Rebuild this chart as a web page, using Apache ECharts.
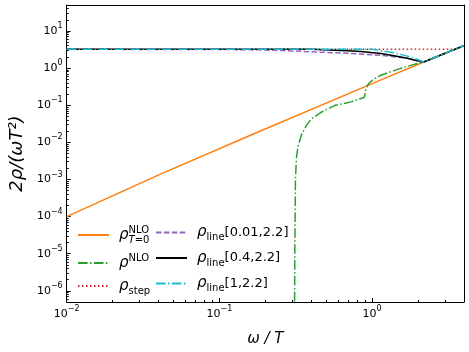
<!DOCTYPE html>
<html>
<head>
<meta charset="UTF-8">
<script src="https://cdn.jsdelivr.net/npm/echarts@6/dist/echarts.min.js"></script>
<style>
  html, body, #chart { width: 100%; height: 100%; margin: 0; padding: 0; }
  body { overflow: hidden; background: #fff; }
</style>
</head>
<body>
<div id="chart"></div>
<script>
// omega/T on x, 2 rho/(omega T^2) on y (log-log)
const omegaOrange = [0.01, 0.0422, 0.1626, 1, 2.18, 4];
const rhoOrange   = [1.0e-4, 1.46e-3, 0.016, 0.38, 1.46, 4.03];

const omegaGreen = [0.3095, 0.312, 0.315, 0.320, 0.327, 0.344, 0.371, 0.400, 0.465, 0.567, 0.727, 0.889, 0.911, 0.944, 1.007, 1.14, 1.47, 1.88, 2.18, 4];
const rhoGreen   = [1e-8, 1.5e-5, 1.1e-3, 4e-3, 0.0076, 0.0155, 0.0282, 0.0427, 0.0646, 0.0977, 0.123, 0.162, 0.269, 0.372, 0.479, 0.638, 0.923, 1.256, 1.46, 4.03];

const omegaRed = [0.01, 3.48, 4];
const rhoRed   = [3.2, 3.2, 4.03];

const omegaPurple = [0.01, 0.1, 0.18, 0.255, 0.42, 0.69, 1.14, 1.70, 2.18, 4];
const rhoPurple   = [3.2, 3.17, 3.1, 2.98, 2.72, 2.5, 2.2, 1.85, 1.46, 4.03];

const omegaBlack = [0.01, 0.4, 0.69, 0.845, 1.14, 1.39, 1.70, 1.88, 2.18, 4];
const rhoBlack   = [3.2, 3.2, 2.92, 2.8, 2.47, 2.15, 1.85, 1.66, 1.46, 4.03];

const omegaCyan = [0.01, 1, 1.39, 1.79, 2.18, 4];
const rhoCyan   = [3.2, 3.2, 2.57, 2.0, 1.46, 4.03];

const xMajor = [0.01, 0.1, 1];
const xMinor = [0.02, 0.03, 0.04, 0.05, 0.06, 0.07, 0.08, 0.09, 0.2, 0.3, 0.4, 0.5, 0.6, 0.7, 0.8, 0.9, 2, 3, 4];
const yMajor = [1e-6, 1e-5, 1e-4, 1e-3, 1e-2, 1e-1, 1, 10];
const yMinor = [];
for (let e = -7; e <= 1; e++) {
    for (let k = 2; k <= 9; k++) {
        const v = k * Math.pow(10, e);
        if (v > 5e-7 && v < 50) yMinor.push(v);
    }
}

const FONT = 'DejaVu Sans';
const pairs = (xs, ys) => xs.map((x, i) => [x, ys[i]]);

function powLabel(v) {
    const e = Math.round(Math.log10(v));
    return '{b|10}{s|' + (e < 0 ? '\u2212' + (-e) : e) + '}';
}
const tickRich = {
    b: { fontSize: 11, fontFamily: FONT, color: '#000', lineHeight: 18 },
    s: { fontSize: 8, fontFamily: FONT, color: '#000', lineHeight: 10, verticalAlign: 'top' }
};

const legRich = {
    r: { fontSize: 15, fontFamily: FONT, fontStyle: 'italic', color: '#000', lineHeight: 20, padding: [0, 0, 0, 5] },
    sup: { fontSize: 10, fontFamily: FONT, color: '#000', lineHeight: 9, verticalAlign: 'top', width: 0 },
    sup2: { fontSize: 10, fontFamily: FONT, color: '#000', lineHeight: 9, verticalAlign: 'top' },
    sub: { fontSize: 10, fontFamily: FONT, color: '#000', lineHeight: 10, verticalAlign: 'bottom' },
    subi: { fontSize: 10, fontFamily: FONT, fontStyle: 'italic', color: '#000', lineHeight: 10, verticalAlign: 'bottom' },
    n: { fontSize: 13, fontFamily: FONT, color: '#000', lineHeight: 20 }
};
const legendText = {
    'NLO T0': '{r|ρ}{sup|NLO}{subi|T}{sub|=0}',
    'NLO': '{r|ρ}{sup2|NLO}',
    'step': '{r|ρ}{sub|step}',
    'line a': '{r|ρ}{sub|line}{n|[0.01,2.2]}',
    'line b': '{r|ρ}{sub|line}{n|[0.4,2.2]}',
    'line c': '{r|ρ}{sub|line}{n|[1,2.2]}'
};

function lineSeries(name, xs, ys, color, type, width) {
    return {
        name: name, type: 'line', data: pairs(xs, ys), symbol: 'none',
        xAxisIndex: 0, yAxisIndex: 0,
        lineStyle: { color: color, width: width, type: type },
        itemStyle: { color: color },
        emphasis: { disabled: true }, animation: false
    };
}

const chart = echarts.init(document.getElementById('chart'));
const legendBase = {
    orient: 'vertical', itemWidth: 31, itemHeight: 14, itemGap: 8, padding: 0,
    itemStyle: { opacity: 0, borderWidth: 0 },
    textStyle: { rich: legRich },
    formatter: name => legendText[name]
};

const option = {
    backgroundColor: '#fff',
    animation: false,
    grid: { left: 64, top: 5, right: 5, bottom: 47 },
    legend: [
        Object.assign({}, legendBase, { data: ['NLO T0', 'NLO', 'step'], left: 77, top: 225 }),
        Object.assign({}, legendBase, { data: ['line a', 'line b', 'line c'], left: 155, top: 225 })
    ],
    xAxis: [
        {
            type: 'log', logBase: 10, min: 0.01, max: 4, position: 'bottom',
            name: 'ω / T', nameLocation: 'middle', nameGap: 30,
            nameTextStyle: { fontFamily: FONT, fontStyle: 'italic', fontSize: 15, color: '#000' },
            axisLine: { show: true, lineStyle: { color: '#000', width: 1 } },
            axisTick: { show: true, inside: true, length: 4, customValues: xMajor, lineStyle: { color: '#000' } },
            axisLabel: { customValues: xMajor, formatter: powLabel, rich: tickRich, margin: 3 },
            splitLine: { show: false }
        },
        {
            type: 'log', logBase: 10, min: 0.01, max: 4, position: 'bottom',
            axisLine: { show: false },
            axisTick: { show: true, inside: true, length: 2, customValues: xMinor, lineStyle: { color: '#000' } },
            axisLabel: { show: false },
            splitLine: { show: false }
        },
        {
            type: 'log', logBase: 10, min: 0.01, max: 4, position: 'top',
            axisLine: { show: true, lineStyle: { color: '#000', width: 1 } },
            axisTick: { show: false }, axisLabel: { show: false }, splitLine: { show: false }
        }
    ],
    yAxis: [
        {
            type: 'log', logBase: 10, min: 5e-7, max: 50, position: 'left',
            name: '2ρ/(ωT²)', nameLocation: 'middle', nameGap: 38, nameRotate: 90,
            nameTextStyle: { fontFamily: FONT, fontStyle: 'italic', fontSize: 18, color: '#000' },
            axisLine: { show: true, lineStyle: { color: '#000', width: 1 } },
            axisTick: { show: true, inside: true, length: 4, customValues: yMajor, lineStyle: { color: '#000' } },
            axisLabel: { customValues: yMajor, formatter: powLabel, rich: tickRich, margin: 4 },
            splitLine: { show: false }
        },
        {
            type: 'log', logBase: 10, min: 5e-7, max: 50, position: 'left',
            axisLine: { show: false },
            axisTick: { show: true, inside: true, length: 2, customValues: yMinor, lineStyle: { color: '#000' } },
            axisLabel: { show: false },
            splitLine: { show: false }
        },
        {
            type: 'log', logBase: 10, min: 5e-7, max: 50, position: 'right',
            axisLine: { show: true, lineStyle: { color: '#000', width: 1 } },
            axisTick: { show: false }, axisLabel: { show: false }, splitLine: { show: false }
        }
    ],
    series: [
        lineSeries('NLO T0', omegaOrange, rhoOrange, '#ff7f0e', 'solid', 1.5),
        lineSeries('NLO', omegaGreen, rhoGreen, '#2ca02c', [9.6, 2.4, 1.5, 2.4], 1.5),
        lineSeries('step', omegaRed, rhoRed, '#d62728', [1.5, 2.5], 1.5),
        lineSeries('line a', omegaPurple, rhoPurple, '#9467bd', [5.5, 2.4], 1.5),
        lineSeries('line b', omegaBlack, rhoBlack, '#000000', 'solid', 1.5),
        lineSeries('line c', omegaCyan, rhoCyan, '#17becf', [9.6, 2.4, 1.5, 2.4], 1.5)
    ]
};
chart.setOption(option);
window.addEventListener('resize', function () { chart.resize(); });
</script>
</body>
</html>
